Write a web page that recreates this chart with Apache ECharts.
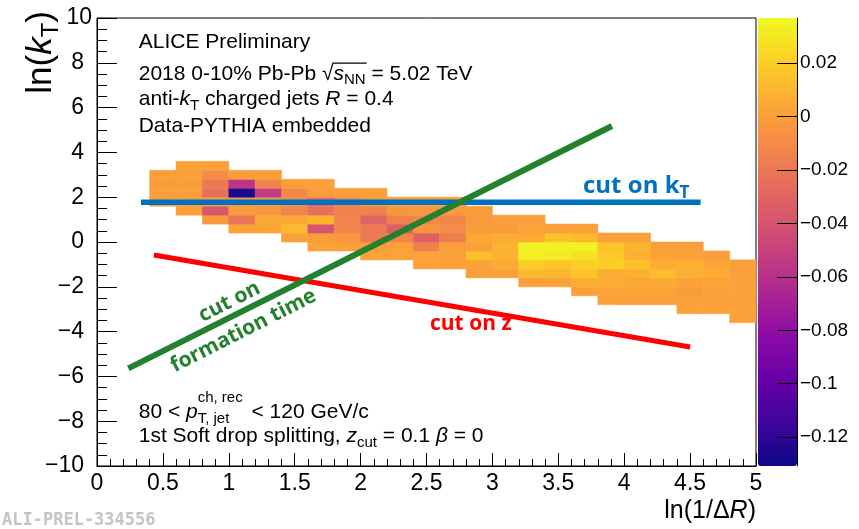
<!DOCTYPE html>
<html><head><meta charset="utf-8">
<script src="https://cdn.jsdelivr.net/npm/echarts@6/dist/echarts.min.js"></script>
<style>html,body{margin:0;padding:0;background:#fff}#c{width:859px;height:529px}</style>
</head><body><div id="c"></div>
<script>
// ---------------- data ----------------
const xBinLeft = [0.4,0.6,0.8,1.0,1.2,1.4,1.6,1.8,2.0,2.2,2.4,2.6,2.8,3.0,3.2,3.4,3.6,3.8,4.0,4.2,4.4,4.6,4.8];
const xBinWidth = 0.2;
const yBinHeight = 0.4;
const colYStart = [1.6,1.2,0.8,0.4,0.4,0.0,-0.4,-0.4,-0.8,-0.8,-1.2,-1.2,-1.6,-1.6,-2.0,-2.0,-2.4,-2.8,-2.8,-2.8,-3.2,-3.2,-3.6];
const colValues = [
  [-0.001, 0.000, -0.001, 0.000],
  [0.000, -0.001, 0.000, -0.001, 0.000, 0.001],
  [-0.003, -0.038, -0.002, -0.024, -0.019, -0.010, 0.000],
  [0.002, -0.020, -0.002, -0.003, -0.126, -0.057, -0.001],
  [0.003, 0.005, -0.004, -0.002, -0.053, -0.014, 0.000],
  [0.001, 0.011, 0.004, -0.013, -0.010, -0.012, 0.000],
  [0.002, -0.001, -0.039, 0.009, -0.024, -0.026, -0.001, 0.000],
  [0.000, -0.004, -0.013, -0.014, -0.015, -0.014, 0.000],
  [0.002, -0.001, -0.018, -0.019, -0.030, -0.015, -0.003, 0.000],
  [0.002, 0.001, -0.012, -0.033, -0.015, -0.004, -0.001],
  [0.002, 0.002, -0.015, -0.032, -0.005, -0.013, -0.004, -0.001],
  [0.001, 0.000, -0.001, -0.017, -0.010, -0.013, -0.002, 0.000],
  [0.000, 0.002, 0.014, 0.001, 0.004, -0.001, -0.002, -0.001],
  [0.001, 0.005, 0.008, 0.009, 0.006, -0.001, 0.000],
  [0.000, 0.011, 0.020, 0.033, 0.034, 0.006, 0.002, 0.000],
  [0.001, 0.010, 0.016, 0.032, 0.034, 0.015, 0.000],
  [0.000, 0.006, 0.016, 0.020, 0.027, 0.034, 0.011, 0.001],
  [0.001, 0.003, 0.006, 0.006, 0.020, 0.018, 0.016, 0.000],
  [0.000, 0.003, 0.004, 0.007, 0.015, 0.007, 0.009, 0.000],
  [0.000, 0.003, 0.005, 0.013, 0.006, 0.002, 0.000],
  [0.001, 0.000, -0.001, 0.001, 0.007, 0.008, 0.001, 0.000],
  [0.001, 0.000, 0.000, 0.003, 0.006, 0.003, 0.000],
  [0.001, 0.001, 0.000, 0.001, 0.001, 0.000, 0.000]
];
const zMin = -0.1308, zMax = 0.0369;
const colorbarTicks = [-0.12, -0.1, -0.08, -0.06, -0.04, -0.02, 0, 0.02];
const ktCutLine = [[0.334, 1.78], [4.58, 1.78]];
const zCutLine = [[0.432, -0.58], [4.50, -4.69]];
const tauCutLine = [[0.238, -5.64], [3.907, 5.18]];

// ---------------- styles ----------------
const PLASMA = ['#0d0887','#41049d','#6a00a8','#8f0da4','#b12a90','#cc4778','#e16462','#f2844b','#fca636','#fcce25','#f0f921'];
const SANS = 'Liberation Sans';
const BOLDF = 'Open Sans';

const cells = [];
xBinLeft.forEach((x0, i) => {
  colValues[i].forEach((v, j) => cells.push([x0, +(colYStart[i] + j * yBinHeight).toFixed(2), v]));
});

// ---- text helpers (measure with canvas, place baseline-aligned) ----
const mctx = document.createElement('canvas').getContext('2d');
function fontOf(p){ return (p.italic?'italic':'normal')+' '+(p.bold?'bold':'normal')+' '+p.size+'px '+p.family; }
function measure(p, text){ mctx.font = fontOf(p); mctx.textBaseline = 'middle'; return mctx.measureText(text); }
function textEl(p, text, x, dy){
  const d = measure(p, 'H').actualBoundingBoxDescent;
  return {type:'text', x:x, y:(dy||0) - d, silent:true,
    style:{text:text, fontSize:p.size, fontFamily:p.family, fontStyle:p.italic?'italic':'normal',
      fontWeight:p.bold?'bold':'normal', fill:p.color, align:'left', verticalAlign:'middle'}};
}
function buildRun(parts, base, align){
  let x = 0; const kids = []; const marks = {};
  parts.forEach(q => {
    if (q.sup !== undefined){
      const ps = Object.assign({}, base, {size:q.size, italic:false});
      const w1 = measure(ps, q.sup).width, w2 = measure(ps, q.sub).width;
      kids.push(textEl(ps, q.sup, x, q.supDy));
      kids.push(textEl(ps, q.sub, x, q.subDy));
      x += Math.max(w1, w2) + (q.gap || 0);
      return;
    }
    const pp = Object.assign({}, base, {size:q.size || base.size, italic:!!q.italic});
    const w = measure(pp, q.t).width;
    if (q.mark) marks[q.mark] = [x, x + w];
    kids.push(textEl(pp, q.t, x, q.dy));
    x += w;
  });
  const shift = align === 'center' ? -x/2 : align === 'right' ? -x : 0;
  kids.forEach(k => k.x += shift);
  Object.keys(marks).forEach(k => { marks[k][0] += shift; marks[k][1] += shift; });
  return {kids, width:x, marks};
}
function group(x, y, rot, kids){ return {type:'group', x:x, y:y, rotation:rot||0, silent:true, children:kids}; }

const G = [];
const base = {family:SANS, size:21, color:'#000', bold:false};
const TX = 138.7;
G.push(group(TX, 48.3, 0, buildRun([{t:'ALICE Preliminary'}], base).kids));
(function(){
  const r = buildRun([{t:'2018 0-10% Pb-Pb '},{t:'\u221A', mark:'sq'},{t:'s', italic:true},{t:'NN', size:15, dy:4, mark:'nn'},{t:' = 5.02 TeV'}], base);
  mctx.font = fontOf(base); mctx.textBaseline = 'alphabetic';
  const asc = mctx.measureText('\u221A').actualBoundingBoxAscent;
  r.kids.push({type:'line', silent:true, shape:{x1:r.marks.sq[1]-1.2, y1:-asc+0.6, x2:r.marks.nn[1]+1, y2:-asc+0.6}, style:{stroke:'#000', lineWidth:1.2}});
  G.push(group(TX, 79.5, 0, r.kids));
})();
G.push(group(TX, 105.3, 0, buildRun([{t:'anti-'},{t:'k', italic:true},{t:'T', size:15, dy:4.5},{t:' charged jets '},{t:'R', italic:true},{t:' = 0.4'}], base).kids));
G.push(group(TX, 131.7, 0, buildRun([{t:'Data-PYTHIA embedded'}], base).kids));
G.push(group(TX, 418.3, 0, buildRun([{t:'80 < '},{t:'p', italic:true},{sup:'ch, rec', sub:'T, jet', size:15, supDy:-16, subDy:5, gap:3},{t:' < 120 GeV/c'}], base).kids));
G.push(group(TX, 441.7, 0, buildRun([{t:'1st Soft drop splitting, '},{t:'z', italic:true},{t:'cut', size:15, dy:5},{t:' = 0.1 '},{t:'\u03B2', italic:true},{t:' = 0'}], base).kids));

// annotation labels
const lb = {family:BOLDF, size:21, bold:true};
G.push(group(583, 193, 0, buildRun([{t:'cut on k', size:24},{t:'T', size:17, dy:5}], Object.assign({}, lb, {color:'#0070c0'})).kids));
G.push(group(430, 330, 0, buildRun([{t:'cut on z'}], Object.assign({}, lb, {color:'#ff0000'})).kids));
const grn = Object.assign({}, lb, {color:'#23802f'});
G.push(group(229, 301, 0.47, buildRun([{t:'cut on', dy:7}], grn, 'center').kids));
G.push(group(243, 330, 0.47, buildRun([{t:'formation time', dy:7}], grn, 'center').kids));

// axis titles
G.push(group(756, 518, 0, buildRun([{t:'ln(1/\u0394'},{t:'R', italic:true},{t:')'}], {family:SANS, size:25, color:'#000'}, 'right').kids));
G.push(group(51, 11, Math.PI/2, buildRun([{t:'ln('},{t:'k', italic:true},{t:'T', size:24, dy:7},{t:')'}], {family:SANS, size:35, color:'#000'}, 'right').kids));
// preliminary tag
G.push({type:'text', x:2, y:521, silent:true, style:{text:'ALI-PREL-334556', fontSize:17, fontFamily:'DejaVu Sans Mono', fontWeight:'bold', fill:'#c4c4c4', align:'left', verticalAlign:'middle'}});

const minus = s => String(s).replace('-', '\u2212');

const chart = echarts.init(document.getElementById('c'), null, {renderer:'canvas'});
chart.setOption({
  animation:false,
  backgroundColor:'#fff',
  grid:[
    {left:97, top:18, width:659, height:448, show:true, borderColor:'#000', borderWidth:1, backgroundColor:'transparent'},
    {left:758, top:18, width:39, height:448, show:false}
  ],
  xAxis:[
    {gridIndex:0, type:'value', min:0, max:5, interval:0.5, z:10,
     axisLine:{show:true, onZero:false, lineStyle:{color:'#000', width:1}},
     axisTick:{show:true, inside:true, length:13, lineStyle:{color:'#000'}},
     minorTick:{show:true, splitNumber:5, length:7, lineStyle:{color:'#000'}},
     splitLine:{show:false}, minorSplitLine:{show:false},
     axisLabel:{show:true, margin:6, fontSize:23, fontFamily:SANS, color:'#000', showMinLabel:true, showMaxLabel:true}},
    {gridIndex:1, type:'value', min:0, max:1, show:false}
  ],
  yAxis:[
    {gridIndex:0, type:'value', min:-10, max:10, interval:2, z:10,
     axisLine:{show:true, onZero:false, lineStyle:{color:'#000', width:1}},
     axisTick:{show:true, inside:true, length:20, lineStyle:{color:'#000'}},
     minorTick:{show:true, splitNumber:4, length:10, lineStyle:{color:'#000'}},
     splitLine:{show:false},
     axisLabel:{show:true, margin:5, fontSize:23, fontFamily:SANS, color:'#000', showMinLabel:true, showMaxLabel:true,
       formatter: v => v === 10 ? '{t|10}' : '{n|' + minus(v) + '}',
       rich:{t:{fontSize:23, fontFamily:SANS, color:'#000'}, n:{fontSize:23, fontFamily:SANS, color:'#000', padding:[0,8,0,0]}}}},
    {gridIndex:1, type:'value', min:zMin, max:zMax, position:'right', z:10,
     axisLine:{show:true, onZero:false, lineStyle:{color:'#000', width:1}},
     axisTick:{show:true, inside:true, length:20, customValues:colorbarTicks, lineStyle:{color:'#000'}},
     splitLine:{show:false},
     axisLabel:{show:true, margin:3, fontSize:19, fontFamily:SANS, color:'#000', customValues:colorbarTicks,
       formatter: v => (v < 0 ? '\u2212' : '') + String(+Math.abs(v).toFixed(3))}}
  ],
  visualMap:{type:'continuous', seriesIndex:0, dimension:2, min:zMin, max:zMax, orient:'vertical',
    left:758, top:18, itemWidth:39, itemHeight:448, padding:0, calculable:false, hoverLink:false, z:2,
    inRange:{color:PLASMA}},
  series:[
    {type:'custom', xAxisIndex:0, yAxisIndex:0, data:cells, encode:{x:0, y:1}, silent:true, z:2,
     renderItem:(params, api) => {
       const x0 = api.value(0), y0 = api.value(1);
       const a = api.coord([x0, y0 + yBinHeight]);
       const b = api.coord([x0 + xBinWidth, y0]);
       const c = api.visual('color');
       return {type:'rect', shape:{x:a[0], y:a[1], width:b[0]-a[0], height:b[1]-a[1]}, style:{fill:c, stroke:c, lineWidth:0.6}};
     }},
    {type:'line', xAxisIndex:0, yAxisIndex:0, data:ktCutLine, symbol:'none', silent:true, z:5, lineStyle:{color:'#0070c0', width:5.5}},
    {type:'line', xAxisIndex:0, yAxisIndex:0, data:zCutLine, symbol:'none', silent:true, z:5, lineStyle:{color:'#ff0000', width:5}},
    {type:'line', xAxisIndex:0, yAxisIndex:0, data:tauCutLine, symbol:'none', silent:true, z:5, lineStyle:{color:'#23802f', width:6}}
  ],
  graphic:{elements:G}
});
</script></body></html>
